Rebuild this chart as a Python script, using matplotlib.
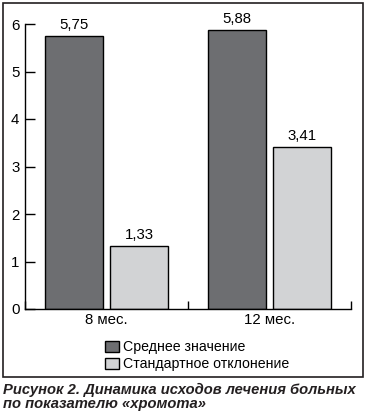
import matplotlib.pyplot as plt
import numpy as np
from matplotlib.patches import Rectangle

plt.rcParams['font.family'] = ['Liberation Sans', 'DejaVu Sans']

# data
categories = ['8 мес.', '12 мес.']
mean_vals = [5.75, 5.88]
sd_vals = [1.33, 3.41]
series_names = ['Среднее значение', 'Стандартное отклонение']
labels_mean = ['5,75', '5,88']
labels_sd = ['1,33', '3,41']
yticks = [0, 1, 2, 3, 4, 5, 6]

dark = '#6d6e71'
light = '#d2d3d5'
fs = 10.8

fig = plt.figure(figsize=(3.66, 4.2), dpi=100)
ax = fig.add_axes([25 / 366, 1 - 309 / 420, 326 / 366, 285 / 420])

x = np.arange(len(categories)) + 0.5
w = 0.36
b1 = ax.bar(x - 0.2, mean_vals, w, color=dark, edgecolor='black', linewidth=1, label=series_names[0])
b2 = ax.bar(x + 0.2, sd_vals, w, color=light, edgecolor='black', linewidth=1, label=series_names[1])

for bars, labs in ((b1, labels_mean), (b2, labels_sd)):
    for r, t in zip(bars, labs):
        ax.text(r.get_x() + r.get_width() / 2, r.get_height() + 0.08, t,
                ha='center', va='bottom', fontsize=fs)

ax.set_xlim(0, 2)
ax.set_ylim(0, 6)
ax.set_yticks(yticks)
ax.set_xticks([0, 1, 2])
ax.set_xticklabels([])
ax.set_xticks(x, minor=True)
ax.set_xticklabels(categories, minor=True, fontsize=fs)
ax.tick_params(axis='x', which='major', direction='in', length=6, width=1)
ax.tick_params(axis='x', which='minor', length=0, pad=3)
ax.tick_params(axis='y', direction='in', length=7, width=1, labelsize=fs, pad=4)

for s in ['top', 'right']:
    ax.spines[s].set_visible(False)
for s in ['left', 'bottom']:
    ax.spines[s].set_linewidth(1)

fig.legend(handles=[b1, b2], loc='upper left', bbox_to_anchor=(98 / 366, 1 - 333 / 420),
           frameon=False, fontsize=10.2, handlelength=1.0, handleheight=0.8,
           handletextpad=0.25, labelspacing=0.22, borderpad=0)

fig.patches.append(Rectangle((3 / 366, 1 - 377 / 420), 360 / 366, 374 / 420,
                             transform=fig.transFigure, fill=False,
                             edgecolor='#231f20', linewidth=1.2))

fig.text(3 / 366, 1 - 383 / 420,
         'Рисунок 2. Динамика исходов лечения больных\nпо показателю «хромота»',
         ha='left', va='top', fontsize=10.6, fontweight='bold', fontstyle='italic',
         color='#231f20', linespacing=1.0)

fig.savefig('out.png', dpi=100)
